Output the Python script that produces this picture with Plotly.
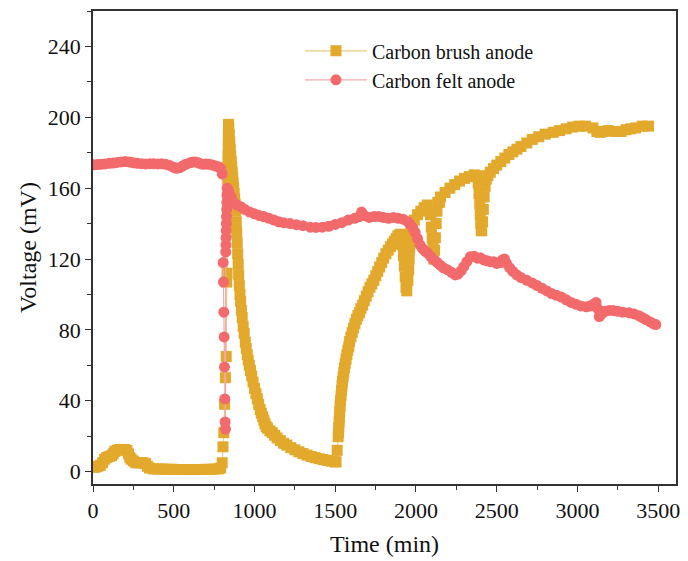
import plotly.graph_objects as go

# Carbon brush anode: time (min) and voltage (mV)
brush_time = [
    0, 15, 30, 45, 60, 72, 85, 100, 115, 125, 135, 150, 165, 180, 195, 210, 220, 228, 236,
    250, 265, 280, 295, 310, 325, 337, 350, 375, 400, 425, 450, 475, 500, 525, 550, 575,
    600, 625, 650, 675, 700, 725, 750, 775, 790, 800, 805, 810, 815, 820, 825, 828, 830,
    832, 833, 834, 835, 836, 837, 838, 839, 841, 844, 847, 850, 853, 856, 859, 862, 865,
    868, 871, 874, 877, 880, 884, 887, 890, 893, 896, 899, 902, 906, 910, 914, 919, 924,
    930, 936, 943, 949, 955, 961, 968, 975, 983, 991, 1000, 1009, 1018, 1026, 1035, 1042,
    1050, 1058, 1065, 1072, 1080, 1095, 1110, 1125, 1140, 1160, 1180,
    1200, 1225, 1250, 1275, 1300, 1325, 1350, 1375, 1400, 1425, 1450, 1475, 1500, 1505,
    1512, 1518, 1520, 1522, 1524, 1526, 1528, 1530, 1533, 1536, 1539, 1542, 1545, 1549,
    1553, 1557, 1562, 1567, 1572, 1578, 1584, 1589, 1597, 1605, 1613, 1622, 1631, 1640,
    1650, 1659, 1670, 1680, 1692, 1703, 1715, 1727, 1739, 1751, 1763, 1775, 1788, 1800,
    1814, 1828, 1842, 1855, 1866, 1877, 1887, 1897, 1905,
    1915, 1922, 1928, 1933, 1938, 1943, 1950, 1955, 1958, 1961, 1964, 1968, 1975, 1990,
    2009, 2030, 2050, 2070, 2090, 2095, 2100, 2105, 2110, 2115, 2120, 2125, 2130, 2135,
    2145, 2152, 2180, 2210, 2240, 2270, 2300, 2330, 2360, 2380, 2385, 2390, 2395, 2398,
    2401, 2404, 2407, 2412, 2417, 2422, 2428, 2435, 2445, 2460, 2480, 2500, 2525, 2550,
    2575, 2600, 2625, 2650, 2686, 2720, 2760, 2800, 2850, 2889, 2930, 2970, 3010, 3050,
    3096, 3120, 3140, 3159, 3190, 3230, 3270, 3301, 3330, 3360, 3400, 3440, 3485,
]
brush_voltage = [
    2.5, 2.5, 3, 3.5, 5, 7, 8, 8.5, 9, 10, 11.5, 12, 12.5, 12.5, 12.5, 12, 10, 8, 7,
    6, 5, 5, 5, 5, 4.5, 3, 2, 1.5, 1.5, 1.5, 1.3, 1.3, 1.3, 1.2, 1.2, 1.2,
    1.2, 1.2, 1.2, 1.2, 1.3, 1.3, 1.4, 1.5, 2, 5, 14, 22, 38, 53, 65, 107, 112,
    140, 160, 166, 172, 178, 184, 190, 196, 194, 190, 186, 182, 178, 175, 172, 169, 166,
    163, 160, 157, 154, 151, 147, 141, 135, 129, 123, 117, 111, 105, 100, 96, 91, 87,
    82, 78, 73, 69.5, 66, 63, 60, 57, 54, 50.5, 47, 44, 41, 38, 35, 33,
    31, 29, 27, 25.5, 24.5, 23, 22, 20.5, 19, 17.5, 16,
    15, 13.5, 12.3, 11.2, 10.2, 9.3, 8.5, 7.9, 7.3, 6.8, 6.3, 5.9, 5.5, 5.5,
    12, 19.7, 22, 25, 28, 31, 34, 37, 40, 43, 46, 48.5, 51, 53.5,
    56, 58.5, 61, 63.5, 66, 68.5, 70.6, 73.5, 76, 78.5, 81, 83.5, 86, 88,
    89.7, 92, 94, 96.5, 99, 101.5, 104, 106, 108, 110.5, 113, 115.5, 118, 120.5,
    123, 125, 127, 128.5, 130, 131.5, 133, 133.5,
    134, 128, 122, 116, 110, 104, 102, 108, 114, 120, 126, 132, 136, 139,
    142, 145, 147, 149, 150.5, 145, 138, 132, 126, 120, 125, 132, 140, 147,
    152, 152, 155, 157.5, 160, 162, 164, 165.5, 166.5, 167.5, 167, 163, 157, 151,
    145, 140, 136, 136, 141, 148, 155, 161, 165, 167, 169, 171, 173, 175,
    177, 179, 180.5, 182, 183.5, 185.5, 187.5, 189, 190.5, 191.5, 192.5, 193.5, 194.5, 195,
    195, 194, 192, 191.5, 192, 192.5, 192, 192, 193, 193.5, 194, 195, 195,
]

# Carbon felt anode: time (min) and voltage (mV)
felt_time = [
    0, 25, 50, 75, 100, 125, 150, 175, 200, 225, 250, 275, 300, 325, 350, 375, 400, 425,
    450, 475, 500, 515, 535, 555, 575, 600, 620, 637, 660, 680, 700, 720, 740, 760, 780,
    790, 800, 806, 808, 810, 812, 814, 816, 818, 820, 822, 823, 824, 825, 826, 827, 828,
    829, 830, 832, 836, 842, 855, 870, 890, 915, 940, 970, 1000, 1030, 1056, 1090, 1120,
    1150, 1180, 1220, 1259, 1300, 1345, 1380, 1420, 1460, 1500, 1540, 1580, 1620, 1650,
    1663, 1680, 1710, 1740, 1770, 1800, 1830, 1860, 1890, 1920, 1950, 1965, 1980, 1995,
    2010, 2025, 2040, 2055, 2071, 2090, 2110, 2132, 2150, 2170, 2194, 2220, 2243, 2260,
    2280, 2296, 2315, 2337, 2360, 2380, 2399, 2420, 2440, 2460, 2481, 2500, 2520, 2535,
    2548, 2560, 2580, 2600, 2624, 2650, 2686, 2720, 2750, 2780, 2810, 2840, 2870, 2900,
    2930, 2960, 2990, 3020, 3055, 3080, 3100, 3115, 3125, 3135, 3150, 3170, 3196, 3220,
    3250, 3280, 3319, 3350, 3380, 3400, 3424, 3450, 3470, 3485,
]
felt_voltage = [
    173.2, 173.3, 173.5, 173.7, 174, 174.2, 174.5, 174.8, 175, 174.8, 174.3, 174, 173.8, 173.7, 173.8, 173.8, 173.7, 173.8,
    173.5, 172.8, 171.8, 171.2, 171.5, 172.5, 173.5, 174.3, 174.8, 174.8, 174, 173.5, 173.6, 173.5, 173, 172.5, 172,
    171, 168, 118, 107, 90, 76, 59, 41, 28, 24, 124, 128, 132, 136, 140, 144, 148,
    152, 156, 160, 159, 157.5, 155, 152, 150.5, 149.5, 148, 146.5, 145.5, 144.5, 144, 143, 142,
    141, 140.5, 140, 139.4, 138.8, 138, 137.8, 138, 138.5, 139.5, 140.5, 142, 143, 144,
    146.5, 144.5, 143.5, 144, 144, 143.5, 143, 143.5, 143, 142.5, 141, 139.5, 137.5, 135,
    131.5, 128, 126, 124.5, 123.5, 121.5, 119.5, 118, 116.5, 115, 114, 112.5, 111, 111.5,
    113.5, 115.7, 118.5, 121.3, 121.5, 120.5, 120.7, 119.5, 119, 118.5, 118.5, 117.5, 118, 119.5,
    120, 117.5, 115, 113, 111, 109.5, 108, 106.5, 105, 103.5, 102, 100.5, 99.5, 98.5,
    97, 95.5, 94.5, 93.5, 93, 93.5, 94.5, 95.5, 92, 87.5, 89, 90.5, 91, 91,
    90.5, 90, 89.6, 89, 88, 87, 85.8, 84.5, 83.5, 83,
]

x_ticks = [0, 500, 1000, 1500, 2000, 2500, 3000, 3500]
y_ticks = [0, 40, 80, 120, 160, 200, 240]

GOLD = "#E2A92C"
GOLD_LINE = "#E9CD86"
RED = "#F26A6C"
RED_LINE = "#F2A9AA"
FONT = "Liberation Serif"
INK = "#111111"

fig = go.Figure()
fig.add_trace(go.Scatter(
    x=brush_time, y=brush_voltage, mode="lines+markers", name="Carbon brush anode",
    line=dict(color=GOLD_LINE, width=1.2),
    marker=dict(symbol="square", size=11, color=GOLD),
))
fig.add_trace(go.Scatter(
    x=felt_time, y=felt_voltage, mode="lines+markers", name="Carbon felt anode",
    line=dict(color=RED_LINE, width=1.2),
    marker=dict(symbol="circle", size=11, color=RED),
))

axis_common = dict(
    showline=True, linecolor="#333333", linewidth=1.5, mirror=True,
    ticks="outside", ticklen=6, tickwidth=1.3, tickcolor="#333333",
    showgrid=False, zeroline=False,
    tickfont=dict(family=FONT, size=22, color=INK),
)

fig.update_xaxes(
    range=[0, 3610], tickvals=x_ticks,
    minor=dict(ticks="outside", ticklen=4, tickwidth=1.3, tickcolor="#333333", dtick=250, tick0=0),
    title=dict(text="Time (min)", font=dict(family=FONT, size=24, color=INK), standoff=13),
    **axis_common,
)
fig.update_yaxes(
    range=[-7, 260], tickvals=y_ticks,
    minor=dict(ticks="outside", ticklen=4, tickwidth=1.3, tickcolor="#333333", dtick=20, tick0=0),
    title=dict(text="Voltage (mV)", font=dict(family=FONT, size=24, color=INK), standoff=4),
    **axis_common,
)

fig.update_layout(
    width=688, height=561,
    margin=dict(l=93, r=8, t=11, b=77),
    paper_bgcolor="white", plot_bgcolor="white",
    showlegend=True,
    legend=dict(
        x=0.355, y=0.957, xanchor="left", yanchor="top",
        bgcolor="rgba(255,255,255,0)",
        font=dict(family=FONT, size=20, color=INK),
        itemwidth=62, tracegroupgap=0,
    ),
)

fig.write_html("out.html")
